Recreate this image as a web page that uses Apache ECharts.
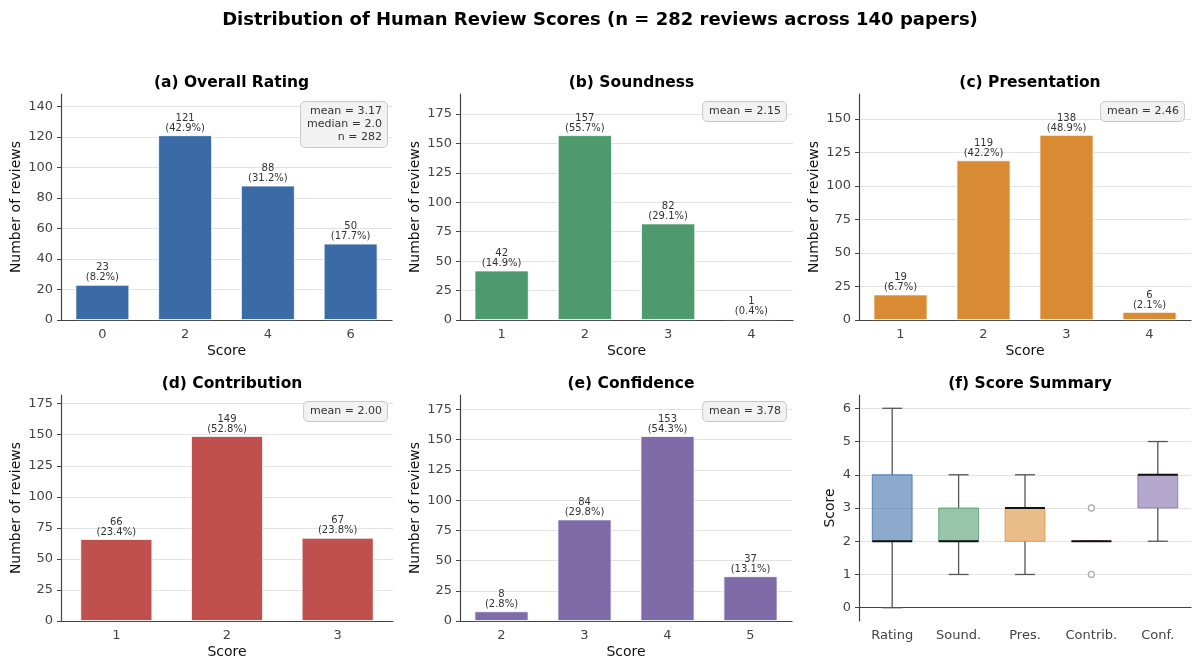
<!DOCTYPE html>
<html>
<head>
<meta charset="utf-8">
<script src="https://cdn.jsdelivr.net/npm/echarts@6/dist/echarts.min.js"></script>
<style>
  html, body { margin: 0; padding: 0; background: #fff; }
  #chart { width: 1200px; height: 671px; }
</style>
</head>
<body>
<div id="chart"></div>
<script>
// review score counts per panel
const ratingScores = ['0', '2', '4', '6'];
const ratingCounts = [23, 121, 88, 50];
const soundScores = ['1', '2', '3', '4'];
const soundCounts = [42, 157, 82, 1];
const presScores = ['1', '2', '3', '4'];
const presCounts = [19, 119, 138, 6];
const contribScores = ['1', '2', '3'];
const contribCounts = [66, 149, 67];
const confScores = ['2', '3', '4', '5'];
const confCounts = [8, 84, 153, 37];
const totalReviews = 282;

const ratingTicks = [0, 20, 40, 60, 80, 100, 120, 140];
const soundTicks = [0, 25, 50, 75, 100, 125, 150, 175];
const presTicks = [0, 25, 50, 75, 100, 125, 150];
const contribTicks = [0, 25, 50, 75, 100, 125, 150, 175];
const confTicks = [0, 25, 50, 75, 100, 125, 150, 175];

// summary boxplot: [low whisker, q1, median, q3, high whisker]
const summaryNames = ['Rating', 'Sound.', 'Pres.', 'Contrib.', 'Conf.'];
const summaryBoxes = [
  [0, 2, 2, 4, 6],
  [1, 2, 2, 3, 4],
  [1, 2, 3, 3, 4],
  [2, 2, 2, 2, 2],
  [2, 3, 4, 4, 5]
];
const summaryOutliers = [['Contrib.', 1], ['Contrib.', 3]];
const summaryTicks = [0, 1, 2, 3, 4, 5, 6];

const FONT = 'DejaVu Sans';
const AXIS_COLOR = '#444';
const TEXT_COLOR = '#444';

const panels = [
  { title: '(a) Overall Rating', cats: ratingScores, counts: ratingCounts, ticks: ratingTicks, max: 148,
    color: '#3a6ba7', rect: [61, 94, 331, 226], note: 'mean = 3.17\nmedian = 2.0\nn = 282', noteAt: [387, 102] },
  { title: '(b) Soundness', cats: soundScores, counts: soundCounts, ticks: soundTicks, max: 192,
    color: '#4e9a6c', rect: [460, 94, 333, 226], note: 'mean = 2.15', noteAt: [786, 102] },
  { title: '(c) Presentation', cats: presScores, counts: presCounts, ticks: presTicks, max: 168.5,
    color: '#d98b33', rect: [859, 94, 332, 226], note: 'mean = 2.46', noteAt: [1184, 102] },
  { title: '(d) Contribution', cats: contribScores, counts: contribCounts, ticks: contribTicks, max: 182,
    color: '#c0504d', rect: [61, 395, 332, 226], note: 'mean = 2.00', noteAt: [387, 402] },
  { title: '(e) Confidence', cats: confScores, counts: confCounts, ticks: confTicks, max: 187,
    color: '#7e6ba7', rect: [460, 395, 332, 226], note: 'mean = 3.78', noteAt: [786, 402] }
];
const summaryRect = [859, 395, 332, 226];
const boxColors = ['#3a6ba7', '#4e9a6c', '#d98b33', '#c0504d', '#7e6ba7'];

function hexA(hex, a) {
  const n = parseInt(hex.slice(1), 16);
  return 'rgba(' + (n >> 16) + ',' + ((n >> 8) & 255) + ',' + (n & 255) + ',' + a + ')';
}

const titles = [{
  text: 'Distribution of Human Review Scores (n = 282 reviews across 140 papers)',
  left: 'center', top: 6,
  textStyle: { fontFamily: FONT, fontSize: 18, fontWeight: 'bold', color: '#000' }
}];
const grids = [], xAxes = [], yAxes = [], series = [], graphics = [];

function addAxes(i, rect, cats, ticks, min, max, yName, xName, yGap) {
  grids.push({ left: rect[0], top: rect[1], width: rect[2], height: rect[3] });
  xAxes.push({
    type: 'category', gridIndex: i, data: cats,
    name: xName, nameLocation: 'middle', nameGap: 24,
    nameTextStyle: { fontFamily: FONT, fontSize: 14, color: '#111' },
    axisLine: { lineStyle: { color: AXIS_COLOR, width: 1.2 } },
    axisTick: { alignWithLabel: true, length: 4, lineStyle: { color: AXIS_COLOR } },
    axisLabel: { fontFamily: FONT, fontSize: 13, color: TEXT_COLOR, margin: 8, interval: 0 },
    splitLine: { show: false }
  });
  yAxes.push({
    type: 'value', gridIndex: i, min: min, max: max,
    name: yName, nameLocation: 'middle', nameGap: yGap,
    nameTextStyle: { fontFamily: FONT, fontSize: 14, color: '#111' },
    axisLine: { show: true, lineStyle: { color: AXIS_COLOR, width: 1.2 } },
    axisTick: { show: true, length: 4, lineStyle: { color: AXIS_COLOR }, customValues: ticks },
    axisLabel: { fontFamily: FONT, fontSize: 13, color: TEXT_COLOR, margin: 8, customValues: ticks },
    splitLine: { show: true, lineStyle: { color: '#e3e3e3', width: 1 } }
  });
}

function addTitle(text, rect) {
  titles.push({
    text: text, left: rect[0] + rect[2] / 2, top: rect[1] - 24, textAlign: 'center',
    textStyle: { fontFamily: FONT, fontSize: 15.5, fontWeight: 'bold', color: '#000' }
  });
}

panels.forEach(function (p, i) {
  addAxes(i, p.rect, p.cats, p.ticks, 0, p.max, 'Number of reviews', 'Score', 38);
  addTitle(p.title, p.rect);
  series.push({
    type: 'bar', xAxisIndex: i, yAxisIndex: i, data: p.counts, barWidth: '65%',
    itemStyle: { color: p.color, borderColor: '#fff', borderWidth: 0.8 },
    label: {
      show: true, position: 'top', distance: 2,
      fontFamily: FONT, fontSize: 10, lineHeight: 10, color: '#333',
      formatter: function (d) {
        return d.value + '\n(' + (d.value / totalReviews * 100).toFixed(1) + '%)';
      }
    }
  });
  graphics.push({
    type: 'text', z: 100,
    style: {
      x: p.noteAt[0], y: p.noteAt[1], text: p.note, align: 'right', verticalAlign: 'top',
      fontFamily: FONT, fontSize: 11, lineHeight: 13, fill: '#333',
      backgroundColor: '#f2f2f2', borderColor: '#c8c8c8', borderWidth: 1, borderRadius: 4,
      padding: [3, 5, 3, 6]
    }
  });
});

// (f) summary panel
const si = panels.length;
addAxes(si, summaryRect, summaryNames, summaryTicks, -0.4, 6.4, 'Score', '', 22);
addTitle('(f) Score Summary', summaryRect);

series.push({
  type: 'custom', xAxisIndex: si, yAxisIndex: si,
  data: summaryBoxes.map(function (b, k) { return [k].concat(b); }),
  encode: { x: 0, y: [1, 2, 3, 4, 5] },
  renderItem: function (params, api) {
    const k = api.value(0);
    const lo = api.coord([k, api.value(1)]);
    const q1 = api.coord([k, api.value(2)]);
    const md = api.coord([k, api.value(3)]);
    const q3 = api.coord([k, api.value(4)]);
    const hi = api.coord([k, api.value(5)]);
    const bw = api.size([1, 0])[0] * 0.6;
    const x = lo[0];
    const col = boxColors[params.dataIndex];
    const wStyle = { stroke: '#555', lineWidth: 1.3 };
    return {
      type: 'group',
      children: [
        { type: 'line', shape: { x1: x, y1: q3[1], x2: x, y2: hi[1] }, style: wStyle },
        { type: 'line', shape: { x1: x, y1: q1[1], x2: x, y2: lo[1] }, style: wStyle },
        { type: 'line', shape: { x1: x - bw / 4, y1: hi[1], x2: x + bw / 4, y2: hi[1] }, style: wStyle },
        { type: 'line', shape: { x1: x - bw / 4, y1: lo[1], x2: x + bw / 4, y2: lo[1] }, style: wStyle },
        { type: 'rect', shape: { x: x - bw / 2, y: q3[1], width: bw, height: q1[1] - q3[1] },
          style: { fill: hexA(col, 0.58), stroke: hexA(col, 0.75), lineWidth: 1 } },
        { type: 'line', shape: { x1: x - bw / 2, y1: md[1], x2: x + bw / 2, y2: md[1] },
          style: { stroke: '#111', lineWidth: 2.2 } }
      ]
    };
  }
});
series.push({
  type: 'scatter', xAxisIndex: si, yAxisIndex: si, data: summaryOutliers,
  symbol: 'circle', symbolSize: 6, z: 5,
  itemStyle: { color: '#fff', borderColor: '#999', borderWidth: 1.3 }
});

const chart = echarts.init(document.getElementById('chart'), null, { renderer: 'canvas' });
chart.setOption({
  backgroundColor: '#fff',
  animation: false,
  title: titles,
  grid: grids,
  xAxis: xAxes,
  yAxis: yAxes,
  series: series,
  graphic: graphics
});
</script>
</body>
</html>
